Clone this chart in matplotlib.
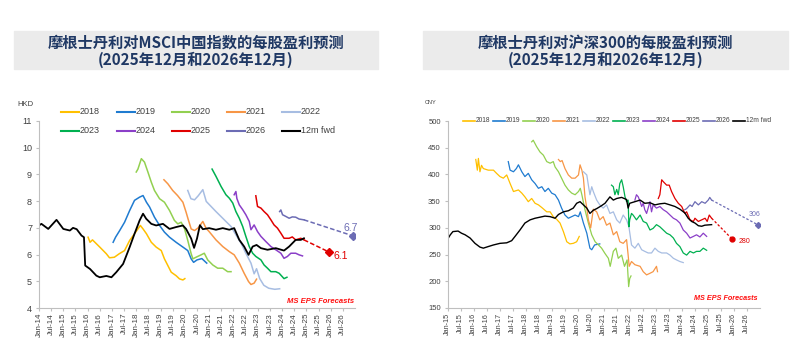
import numpy as np
import matplotlib.pyplot as plt
from matplotlib.lines import Line2D
from matplotlib.patches import Rectangle

plt.rcParams['font.family'] = ['Liberation Sans', 'Noto Sans CJK SC', 'DejaVu Sans']

########################################
# MSCI China EPS (HKD), x = decimal year
#
hk_fwd_x = [2014.0, 2014.1, 2014.38, 2014.72, 2015.0, 2015.27, 2015.4, 2015.55, 2015.75, 2015.85,
            2015.9, 2016.1, 2016.36, 2016.5, 2016.77, 2016.98, 2017.18, 2017.46, 2017.73, 2017.93,
            2018.14, 2018.28, 2018.41, 2018.62, 2018.82, 2019.1, 2019.37, 2019.64, 2019.92, 2020.05,
            2020.26, 2020.38, 2020.5, 2020.62, 2020.74, 2021.0, 2021.28, 2021.56, 2021.83, 2022.03,
            2022.24, 2022.44, 2022.62, 2022.79, 2022.95, 2023.13, 2023.4, 2023.74, 2024.08, 2024.29,
            2024.56, 2024.77, 2024.9]
hk_fwd_y = [7.09, 7.15, 6.96, 7.3, 6.96, 6.9, 7.0, 6.95, 6.71, 6.65,
            5.59, 5.46, 5.21, 5.15, 5.2, 5.15, 5.34, 5.65, 6.28, 6.78,
            7.28, 7.53, 7.34, 7.15, 7.09, 7.15, 6.96, 7.03, 7.09, 6.96,
            6.6, 6.25, 6.6, 7.1, 6.95, 6.99, 6.93, 6.99, 6.93, 6.99,
            6.55, 6.3, 5.99, 6.3, 6.36, 6.24, 6.18, 6.24, 6.15, 6.3,
            6.55, 6.55, 6.61]

hk18_x = [2016.02, 2016.1, 2016.2, 2016.5, 2016.77, 2016.9, 2017.1, 2017.3, 2017.52, 2017.73,
          2017.93, 2018.07, 2018.17, 2018.28, 2018.42, 2018.62, 2018.82, 2019.03, 2019.16, 2019.3,
          2019.44, 2019.64, 2019.78, 2019.92, 2020.0]
hk18_y = [6.65, 6.46, 6.55, 6.28, 6.03, 5.88, 5.9, 6.03, 6.15, 6.53,
          6.78, 6.96, 7.09, 6.96, 6.78, 6.46, 6.28, 6.15, 5.84, 5.59,
          5.34, 5.21, 5.09, 5.05, 5.1]

hk19_x = [2017.05, 2017.15, 2017.32, 2017.52, 2017.73, 2017.93, 2018.14, 2018.28, 2018.42, 2018.55,
          2018.75, 2018.96, 2019.16, 2019.37, 2019.64, 2019.92, 2020.12, 2020.26, 2020.36, 2020.5,
          2020.7, 2020.9]
hk19_y = [6.46, 6.65, 6.9, 7.21, 7.65, 8.03, 8.15, 8.21, 7.96, 7.78,
          7.4, 7.09, 6.84, 6.65, 6.46, 6.28, 6.15, 5.84, 5.71, 5.8,
          5.85, 5.68]

hk20_x = [2018.0, 2018.07, 2018.21, 2018.34, 2018.48, 2018.62, 2018.75, 2018.96, 2019.16, 2019.37,
          2019.57, 2019.71, 2019.85, 2019.99, 2020.12, 2020.26, 2020.33, 2020.46, 2020.67, 2020.8,
          2020.94, 2021.15, 2021.35, 2021.56, 2021.76, 2021.9]
hk20_y = [9.09, 9.2, 9.59, 9.46, 9.09, 8.71, 8.4, 8.09, 7.96, 7.65,
          7.28, 7.15, 7.21, 6.96, 6.53, 6.03, 5.84, 5.9, 5.99, 6.05,
          5.8, 5.61, 5.49, 5.49, 5.36, 5.36]

hk21_x = [2019.14, 2019.3, 2019.5, 2019.7, 2019.92, 2020.05, 2020.15, 2020.26, 2020.4, 2020.55,
          2020.74, 2020.87, 2021.0, 2021.28, 2021.56, 2021.83, 2022.03, 2022.24, 2022.44, 2022.62,
          2022.72, 2022.85, 2022.95]
hk21_y = [8.8, 8.65, 8.4, 8.21, 7.96, 7.59, 7.28, 6.96, 6.9, 7.0,
          7.24, 6.99, 6.86, 6.55, 6.3, 6.11, 5.99, 5.68, 5.3, 4.99,
          4.88, 4.93, 5.08]

hk22_x = [2020.12, 2020.25, 2020.4, 2020.55, 2020.74, 2020.88, 2021.08, 2021.28, 2021.48, 2021.69,
          2021.9, 2022.1, 2022.31, 2022.51, 2022.72, 2022.85, 2022.95, 2023.08, 2023.25, 2023.45,
          2023.7, 2023.9]
hk22_y = [8.4, 8.09, 8.05, 8.2, 8.43, 7.99, 7.8, 7.61, 7.43, 7.24,
          7.05, 6.74, 6.43, 6.05, 5.68, 5.28, 5.47, 5.1, 4.85, 4.74,
          4.7, 4.72]

hk23_x = [2021.12, 2021.28, 2021.49, 2021.69, 2021.83, 2021.97, 2022.1, 2022.24, 2022.38, 2022.51,
          2022.65, 2022.79, 2022.92, 2023.13, 2023.26, 2023.4, 2023.54, 2023.74, 2023.88, 2024.08,
          2024.2]
hk23_y = [9.2, 8.93, 8.55, 8.24, 8.11, 7.93, 7.61, 7.36, 7.05, 6.68,
          6.3, 6.05, 5.93, 5.8, 5.61, 5.49, 5.36, 5.36, 5.3, 5.1,
          5.15]

hk24_x = [2022.03, 2022.1, 2022.14, 2022.24, 2022.38, 2022.51, 2022.65, 2022.72, 2022.85, 2022.99,
          2023.13, 2023.33, 2023.54, 2023.74, 2023.95, 2024.08, 2024.22, 2024.36, 2024.56, 2024.7,
          2024.84]
hk24_y = [8.24, 8.36, 8.1, 7.86, 7.68, 7.49, 7.24, 6.93, 7.11, 6.86,
          6.68, 6.49, 6.3, 6.18, 6.05, 5.86, 5.93, 6.05, 6.05, 5.99,
          5.95]

hk25_x = [2022.92, 2022.99, 2023.13, 2023.26, 2023.4, 2023.54, 2023.67, 2023.81, 2023.95, 2024.08,
          2024.29, 2024.42, 2024.56, 2024.77, 2024.9]
hk25_y = [8.2, 7.8, 7.74, 7.61, 7.49, 7.3, 7.11, 6.99, 6.8, 6.61,
          6.61, 6.66, 6.55, 6.61, 6.55]

hk26_x = [2023.9, 2023.95, 2024.02, 2024.15, 2024.29, 2024.42, 2024.56, 2024.7, 2024.9]
hk26_y = [7.61, 7.67, 7.49, 7.43, 7.36, 7.41, 7.4, 7.33, 7.3]

# MS forecasts: Dec-25 and Dec-26
hk_fc25 = 6.1
hk_fc26 = 6.7

########################################
# CSI 300 EPS (CNY)
#
cn_fwd_x = [2015.0, 2015.1, 2015.2, 2015.4, 2015.53, 2015.67, 2015.86, 2016.05, 2016.24, 2016.37,
            2016.56, 2016.76, 2017.01, 2017.27, 2017.46, 2017.59, 2017.78, 2017.97, 2018.17, 2018.36,
            2018.55, 2018.74, 2018.94, 2019.13, 2019.26, 2019.45, 2019.64, 2019.83, 2019.96, 2020.09,
            2020.22, 2020.35, 2020.47, 2020.6, 2020.73, 2020.9, 2021.05, 2021.24, 2021.37, 2021.5,
            2021.69, 2021.88, 2021.94, 2022.0, 2022.2, 2022.4, 2022.58, 2022.78, 2022.97, 2023.16,
            2023.35, 2023.55, 2023.74, 2023.93, 2024.12, 2024.25, 2024.38, 2024.51, 2024.64, 2024.77,
            2024.89, 2025.15]
cn_fwd_y = [279, 287, 293, 294, 290, 287, 281, 271, 264, 262,
            265, 268, 271, 272, 276, 284, 296, 309, 315, 318,
            320, 322, 321, 318, 325, 330, 332, 337, 346, 349,
            343, 337, 327, 333, 336, 341, 346, 358, 352, 355,
            357, 353, 337, 346, 349, 352, 346, 347, 343, 345,
            346, 343, 340, 335, 328, 318, 312, 309, 304, 303,
            305, 306]

cn18_x = [2016.08, 2016.14, 2016.18, 2016.24, 2016.3, 2016.37, 2016.56, 2016.76, 2016.88, 2017.01,
          2017.14, 2017.27, 2017.4, 2017.53, 2017.72, 2017.85, 2017.97, 2018.1, 2018.23, 2018.36,
          2018.49, 2018.62, 2018.81, 2018.94, 2019.06, 2019.19, 2019.32, 2019.45, 2019.58, 2019.7,
          2019.83, 2019.96, 2020.06]
cn18_y = [428, 408, 430, 405, 417, 411, 408, 408, 402, 396,
          393, 399, 383, 368, 371, 365, 358, 349, 355, 346,
          343, 338, 330, 330, 321, 316, 309, 293, 274, 270,
          271, 274, 284]

cn19_x = [2017.33, 2017.4, 2017.53, 2017.64, 2017.72, 2017.85, 2017.97, 2018.1, 2018.23, 2018.36,
          2018.49, 2018.62, 2018.74, 2018.87, 2019.0, 2019.13, 2019.26, 2019.38, 2019.51, 2019.64,
          2019.77, 2019.9, 2020.03, 2020.1, 2020.22, 2020.35, 2020.47, 2020.54, 2020.65, 2020.85]
cn19_y = [424, 408, 405, 411, 418, 405, 396, 402, 390, 383,
          374, 377, 368, 374, 365, 362, 352, 337, 324, 318,
          321, 324, 321, 330, 309, 290, 262, 259, 268, 270]

cn20_x = [2018.23, 2018.29, 2018.42, 2018.55, 2018.68, 2018.81, 2018.94, 2019.06, 2019.13, 2019.26,
          2019.38, 2019.51, 2019.64, 2019.77, 2019.9, 2020.03, 2020.1, 2020.16, 2020.28, 2020.41,
          2020.54, 2020.67, 2020.8, 2020.92, 2021.05, 2021.18, 2021.25, 2021.37, 2021.47, 2021.56,
          2021.69, 2021.8, 2021.9, 2021.96, 2022.0, 2022.05]
cn20_y = [461, 464, 452, 442, 436, 424, 421, 424, 414, 405,
          393, 380, 371, 365, 362, 368, 374, 362, 334, 309,
          287, 274, 268, 262, 252, 243, 228, 256, 262, 243,
          249, 228, 240, 190, 205, 210]

cn21_x = [2019.26, 2019.33, 2019.4, 2019.51, 2019.64, 2019.77, 2019.9, 2020.03, 2020.09, 2020.16,
          2020.22, 2020.28, 2020.35, 2020.41, 2020.5, 2020.6, 2020.73, 2020.85, 2020.98, 2021.11,
          2021.24, 2021.37, 2021.5, 2021.62, 2021.75, 2021.88, 2021.94, 2021.98, 2022.07, 2022.2,
          2022.4, 2022.52, 2022.65, 2022.78, 2022.9, 2023.03, 2023.07]
cn21_y = [428, 424, 426, 411, 399, 393, 393, 399, 418, 408,
          393, 358, 337, 315, 300, 335, 330, 315, 321, 305,
          309, 287, 293, 274, 271, 278, 249, 228, 237, 231,
          228, 218, 212, 215, 218, 228, 218]

cn22_x = [2020.22, 2020.35, 2020.41, 2020.47, 2020.54, 2020.6, 2020.73, 2020.85, 2020.98, 2021.11,
          2021.24, 2021.37, 2021.5, 2021.62, 2021.75, 2021.88, 2021.97, 2022.07, 2022.2, 2022.33,
          2022.46, 2022.58, 2022.71, 2022.84, 2022.97, 2023.1, 2023.23, 2023.42, 2023.55, 2023.68,
          2023.8, 2023.93, 2024.06]
cn22_y = [405, 399, 380, 362, 377, 368, 352, 343, 337, 343,
          327, 330, 315, 309, 324, 315, 302, 268, 262, 271,
          259, 256, 253, 253, 262, 256, 253, 253, 249, 243,
          240, 237, 235]

cn23_x = [2021.3, 2021.37, 2021.43, 2021.5, 2021.56, 2021.62, 2021.69, 2021.75, 2021.82, 2021.88,
          2021.94, 2021.97, 2022.0, 2022.07, 2022.13, 2022.26, 2022.4, 2022.52, 2022.65, 2022.78,
          2022.9, 2023.03, 2023.16, 2023.29, 2023.42, 2023.55, 2023.68, 2023.8, 2023.93, 2024.06,
          2024.19, 2024.32, 2024.45, 2024.57, 2024.7, 2024.83, 2024.96]
cn23_y = [380, 377, 362, 372, 362, 383, 390, 377, 358, 349,
          352, 302, 315, 327, 324, 315, 324, 312, 309, 296,
          299, 306, 302, 296, 290, 287, 281, 271, 265, 253,
          249, 256, 253, 256, 256, 262, 258]

cn24_x = [2022.2, 2022.26, 2022.33, 2022.4, 2022.46, 2022.52, 2022.58, 2022.65, 2022.71, 2022.78,
          2022.84, 2022.9, 2023.03, 2023.16, 2023.29, 2023.42, 2023.55, 2023.68, 2023.8, 2023.93,
          2024.06, 2024.19, 2024.32, 2024.45, 2024.57, 2024.7, 2024.83, 2024.96]
cn24_y = [352, 362, 358, 349, 340, 346, 334, 327, 337, 349,
          330, 343, 337, 340, 334, 330, 324, 318, 315, 309,
          296, 290, 281, 284, 287, 283, 290, 284]

cn25_x = [2023.1, 2023.16, 2023.23, 2023.3, 2023.42, 2023.52, 2023.61, 2023.74, 2023.87, 2024.0,
          2024.12, 2024.19, 2024.32, 2024.45, 2024.51, 2024.64, 2024.77, 2024.9, 2024.98, 2025.06,
          2025.15]
cn25_y = [355, 362, 390, 386, 380, 380, 368, 355, 346, 340,
          327, 330, 315, 312, 318, 312, 315, 318, 312, 324,
          318]

cn26_x = [2024.12, 2024.19, 2024.32, 2024.4, 2024.51, 2024.64, 2024.77, 2024.9, 2025.02, 2025.08, 2025.15]
cn26_y = [334, 336, 343, 340, 349, 343, 349, 346, 352, 357, 352]

cn_fc25 = 280
cn_fc26 = 306

fc_dates = [2025.92, 2026.92]

labels = ["2018", "2019", "2020", "2021", "2022", "2023", "2024", "2025", "2026", "12m fwd"]
colors = ["#FFC000", "#1F7BD0", "#92D050", "#F79646", "#A7BDE2",
          "#00B050", "#8B3FC8", "#E00000", "#6C6CB4", "black"]

####################################
fig = plt.figure(figsize=(8.01, 3.56), dpi=100)

def fx(px):
    return px / 801.0

def fy(py):
    return 1 - py / 356.0

navy = "#1F3864"
grid_col = "#BFBFBF"

# title boxes
for x0, x1, t1 in [(14, 378, "摩根士丹利对MSCI中国指数的每股盈利预测"),
                   (423, 788, "摩根士丹利对沪深300的每股盈利预测")]:
    fig.patches.append(Rectangle((fx(x0), fy(69)), fx(x1 - x0), 38 / 356.0,
                                 transform=fig.transFigure, color="#EBEBEB", zorder=0))
    cx = fx((x0 + x1) / 2)
    fig.text(cx, fy(43), t1, ha="center", va="center", fontsize=11, fontweight="bold",
             color=navy, family=["Noto Sans CJK SC"])
    fig.text(cx, fy(60), "(2025年12月和2026年12月)", ha="center", va="center", fontsize=11,
             fontweight="bold", color=navy, family=["Noto Sans CJK SC"])


def style_axes(ax, start, ysize, xsize):
    for s in ["top", "right"]:
        ax.spines[s].set_visible(False)
    for s in ["left", "bottom"]:
        ax.spines[s].set_color(grid_col)
        ax.spines[s].set_linewidth(0.8)
    ticks = np.arange(start, 2026.51, 0.5)
    ax.set_xticks(ticks)
    ax.set_xticklabels([("Jan-" if t % 1 == 0 else "Jul-") + "%02d" % (int(t) % 100) for t in ticks],
                       rotation=90, fontsize=xsize, color="#404040")
    ax.tick_params(axis="x", length=2, color=grid_col, pad=1.5)
    ax.tick_params(axis="y", length=2, color=grid_col, labelsize=ysize, labelcolor="#404040", pad=3)
    ax.set_facecolor("none")


series_hk = [(hk18_x, hk18_y), (hk19_x, hk19_y), (hk20_x, hk20_y), (hk21_x, hk21_y),
             (hk22_x, hk22_y), (hk23_x, hk23_y), (hk24_x, hk24_y), (hk25_x, hk25_y),
             (hk26_x, hk26_y), (hk_fwd_x, hk_fwd_y)]
series_cn = [(cn18_x, cn18_y), (cn19_x, cn19_y), (cn20_x, cn20_y), (cn21_x, cn21_y),
             (cn22_x, cn22_y), (cn23_x, cn23_y), (cn24_x, cn24_y), (cn25_x, cn25_y),
             (cn26_x, cn26_y), (cn_fwd_x, cn_fwd_y)]

# ---------- left chart
ax1 = fig.add_axes([fx(39), fy(308), fx(316), 187 / 356.0])
for (x, y), c in zip(series_hk, colors):
    ax1.plot(x, y, color=c, lw=1.3 if c == "black" else 1.1)
ax1.plot([hk25_x[-1], fc_dates[0]], [hk25_y[-1], hk_fc25], color=colors[7], lw=1.1, ls=(0, (3, 1.5)))
ax1.plot(fc_dates[0], hk_fc25, "D", color=colors[7], ms=4)
ax1.plot([hk26_x[-1], fc_dates[1]], [hk26_y[-1], hk_fc26], color=colors[8], lw=1.1, ls=(0, (3, 1.5)))
ax1.plot(fc_dates[1], hk_fc26, "D", color=colors[8], ms=4)
ax1.text(fc_dates[0] + 0.2, hk_fc25 - 0.15, "6.1", color=colors[7], fontsize=7.5, ha="left", va="center")
ax1.text(fc_dates[1] - 0.1, hk_fc26 + 0.3, "6.7", color=colors[8], fontsize=7.5, ha="center", va="center")
ax1.text(2026.95, 4.25, "MS EPS Forecasts", color="#FF1010", fontsize=5.5, style="italic",
         fontweight="bold", ha="right", va="center")
ax1.set_xlim(2014.0, 2027.0)
ax1.set_ylim(4, 11)
ax1.set_yticks(range(4, 12))
style_axes(ax1, 2014.0, 6.5, 5.8)
fig.text(fx(17), fy(104), "HKD", fontsize=5.5, color="#404040", va="center")

# left legend, two rows
for i, (lab, c) in enumerate(zip(labels, colors)):
    lx = [61, 117, 172, 227, 282][i % 5]
    ly = 112 if i < 5 else 131
    fig.add_artist(Line2D([fx(lx), fx(lx + 18)], [fy(ly), fy(ly)], color=c, lw=1.5,
                          transform=fig.transFigure))
    fig.text(fx(lx + 19), fy(ly), lab, fontsize=6.5, color="#404040", va="center")

# ---------- right chart
ax2 = fig.add_axes([fx(447.7), fy(308), fx(312), 187 / 356.0])
for (x, y), c in zip(series_cn, colors):
    ax2.plot(x, y, color=c, lw=1.0 if c == "black" else 0.9)
ax2.plot([cn25_x[-1], fc_dates[0]], [cn25_y[-1], cn_fc25], color=colors[7], lw=0.9, ls=(0, (2, 1.5)))
ax2.plot(fc_dates[0], cn_fc25, "o", color=colors[7], ms=3.5)
ax2.plot([cn26_x[-1], fc_dates[1]], [cn26_y[-1], cn_fc26], color=colors[8], lw=0.9, ls=(0, (2, 1.5)))
ax2.plot(fc_dates[1], cn_fc26, "D", color=colors[8], ms=3)
ax2.text(fc_dates[0] + 0.25, cn_fc25 - 6, "280", color=colors[7], fontsize=5, ha="left", va="center")
ax2.text(fc_dates[1] - 0.1, cn_fc26 + 19, "306", color=colors[8], fontsize=5, ha="center", va="center")
ax2.text(2026.9, 168, "MS EPS Forecasts", color="#FF1010", fontsize=5.2, style="italic",
         fontweight="bold", ha="right", va="center")
ax2.set_xlim(2015.0, 2027.0)
ax2.set_ylim(150, 500)
ax2.set_yticks(range(150, 501, 50))
style_axes(ax2, 2015.0, 5.5, 5.2)
fig.text(fx(425), fy(103), "CNY", fontsize=4, color="#404040", va="center")

# right legend, one row
for i, (lab, c) in enumerate(zip(labels, colors)):
    lx = 463 + 30 * i
    fig.add_artist(Line2D([fx(lx), fx(lx + 12)], [fy(121), fy(121)], color=c, lw=1.2,
                          transform=fig.transFigure))
    fig.text(fx(lx + 13), fy(121), lab, fontsize=4.8, color="#404040", va="center")

fig.savefig("out.png", dpi=100)
